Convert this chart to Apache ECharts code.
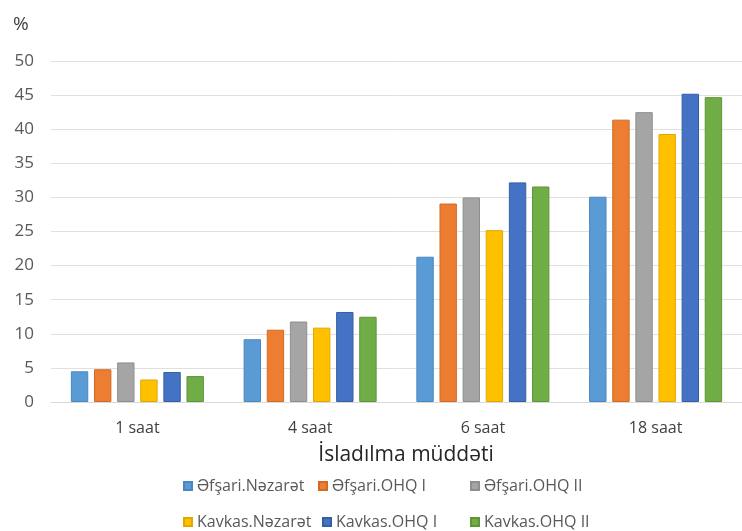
<!DOCTYPE html>
<html>
<head>
<meta charset="utf-8">
<script src="https://cdn.jsdelivr.net/npm/echarts@6/dist/echarts.min.js"></script>
<style>
  html, body { margin: 0; padding: 0; background: #ffffff; }
  #chart { width: 742px; height: 531px; }
</style>
</head>
<body>
<div id="chart"></div>
<script>
// Soaking duration categories
const categories = ['1 saat', '4 saat', '6 saat', '18 saat'];

// Series names
const seriesNames = [
  'Əfşari.Nəzarət', 'Əfşari.OHQ I', 'Əfşari.OHQ II',
  'Kavkas.Nəzarət', 'Kavkas.OHQ I', 'Kavkas.OHQ II'
];

// Values (%) per series, one per category
const afshariNazarat = [4.5, 9.2, 21.3, 30.1];
const afshariOhq1    = [4.8, 10.6, 29.1, 41.4];
const afshariOhq2    = [5.8, 11.8, 30.0, 42.5];
const kavkasNazarat  = [3.3, 10.9, 25.2, 39.3];
const kavkasOhq1     = [4.4, 13.2, 32.2, 45.2];
const kavkasOhq2     = [3.8, 12.5, 31.6, 44.7];

const seriesValues = [afshariNazarat, afshariOhq1, afshariOhq2, kavkasNazarat, kavkasOhq1, kavkasOhq2];

const colors  = ['#5B9BD5', '#ED7D31', '#A5A5A5', '#FFC000', '#4472C4', '#70AD47'];
const borders = ['#4a87c0', '#d06a25', '#8f8f8f', '#e0a800', '#35609f', '#5c9636'];

const FONT = '"Open Sans", sans-serif';

// Legend placement: two rows of three columns
const legendPos = [
  { left: 183, top: 477 }, { left: 318, top: 477 }, { left: 470, top: 477 },
  { left: 183, top: 513 }, { left: 322, top: 513 }, { left: 470, top: 513 }
];

const chart = echarts.init(document.getElementById('chart'));

chart.setOption({
  backgroundColor: '#ffffff',
  animation: false,
  textStyle: { fontFamily: FONT },
  title: {
    text: '%',
    left: 8,
    top: 10,
    textStyle: { fontFamily: FONT, fontSize: 19, fontWeight: 'normal', color: '#404040' }
  },
  // plot area runs slightly past the right edge of the canvas
  grid: { left: 51, width: 708, top: 61, height: 341 },
  legend: seriesNames.map((name, i) => ({
    data: [name],
    left: legendPos[i].left,
    top: legendPos[i].top,
    padding: 0,
    itemWidth: 8,
    itemHeight: 8,
    icon: 'rect',
    textStyle: { fontFamily: FONT, fontSize: 16, lineHeight: 18, color: '#595959' }
  })),
  xAxis: {
    type: 'category',
    data: categories,
    name: 'İsladılma müddəti',
    nameLocation: 'middle',
    nameGap: 43,
    nameTextStyle: { fontFamily: FONT, fontSize: 21, color: '#262626', padding: [0, 0, 0, 19] },
    axisLine: { lineStyle: { color: '#D9D9D9', width: 1 } },
    axisTick: { show: false },
    axisLabel: { fontFamily: FONT, fontSize: 16, color: '#404040', margin: 18 }
  },
  yAxis: {
    type: 'value',
    min: 0,
    max: 50,
    interval: 5,
    axisLine: { show: false },
    axisTick: { show: false },
    axisLabel: { fontFamily: FONT, fontSize: 17, color: '#595959', margin: 17 },
    splitLine: { lineStyle: { color: '#E0E0E0', width: 1 } }
  },
  series: seriesNames.map((name, i) => ({
    name: name,
    type: 'bar',
    data: seriesValues[i],
    barGap: '33%',
    barCategoryGap: '23%',
    itemStyle: { color: colors[i], borderColor: borders[i], borderWidth: 1 }
  }))
});
</script>
</body>
</html>
